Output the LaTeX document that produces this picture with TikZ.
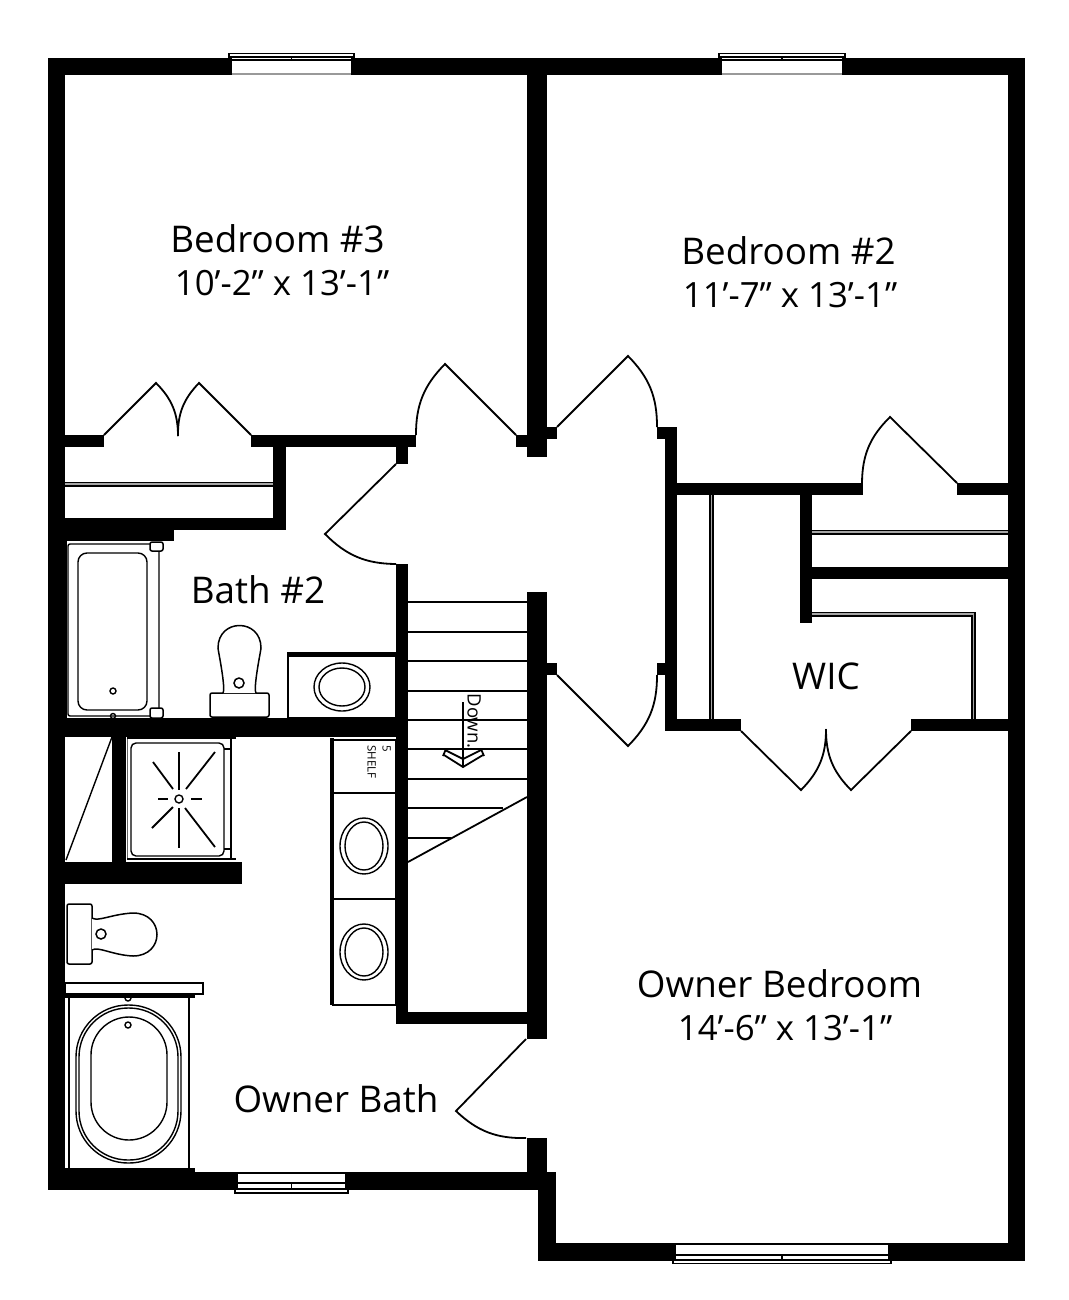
\documentclass[tikz,border=0pt]{standalone}
\usepackage{fontspec}
\setmainfont{Open Sans}
\usetikzlibrary{calc}
\tikzset{
  wall/.style = {fill=black, draw=none},
  fixture/.style = {draw, line width=1.5pt, fill=white},
  thin/.style = {draw, line width=1.4pt},
  swing/.style = {draw, line width=1.8pt, line join=miter},
  rod/.style = {draw=black!35, line width=1.6pt, preaction={draw=black, line width=5pt}},
  roomlabel/.style = {font=\fontsize{36.8}{42}\selectfont, inner sep=0pt},
  sizelabel/.style = {font=\fontsize{34.8}{42}\selectfont, inner sep=0pt},
}
\begin{document}
\begin{tikzpicture}[x=1pt, y=-1pt]
  \useasboundingbox (0,0) rectangle (1068,1300);

  % outer walls
  \fill[wall] (48,58) rectangle (65,1190);
  \fill[wall] (48,58) rectangle (1025,75);
  \fill[wall] (1008,58) rectangle (1025,1261);
  \fill[wall] (48,1172) rectangle (556,1190);
  \fill[wall] (538,1172) rectangle (556,1261);
  \fill[wall] (538,1243) rectangle (1025,1261);

  % centre wall and stairwell
  \fill[wall] (527,58) rectangle (547,457);
  \fill[wall] (516,435) rectangle (527,447);
  \fill[wall] (547,427) rectangle (557,439);
  \fill[wall] (527,592) rectangle (547,1039);
  \fill[wall] (547,663) rectangle (557,675);
  \fill[wall] (527,1138) rectangle (547,1175);
  \fill[wall] (396,564) rectangle (408,1024);
  \fill[wall] (396,1012) rectangle (527,1024);

  % bedroom 3 closet and bath 2
  \fill[wall] (65,435) rectangle (104,447);
  \fill[wall] (251,435) rectangle (416,447);
  \fill[wall] (396,447) rectangle (408,464);
  \fill[wall] (273,447) rectangle (286,530);
  \fill[wall] (65,518) rectangle (286,530);
  \fill[wall] (65,530) rectangle (174,541);
  \fill[wall] (65,530) rectangle (67,718);
  \fill[wall] (65,718) rectangle (408,737);
  \fill[wall] (112,737) rectangle (126,862);
  \fill[wall] (65,862) rectangle (242,884);

  % bedroom 2, closet and WIC
  \fill[wall] (657,427) rectangle (677,439);
  \fill[wall] (665,427) rectangle (677,731);
  \fill[wall] (657,663) rectangle (665,675);
  \fill[wall] (677,483) rectangle (863,495);
  \fill[wall] (957,483) rectangle (1008,495);
  \fill[wall] (800,495) rectangle (812,623);
  \fill[wall] (812,567) rectangle (1008,579);
  \fill[wall] (665,719) rectangle (741,731);
  \fill[wall] (911,719) rectangle (1008,731);

  % closet rods
  \draw[rod] (711.5,495) -- (711.5,719);
  \draw[rod] (812,532) -- (1008,532);
  \draw[rod] (812,614) -- (973.5,614) -- (973.5,719);
  \draw[rod] (65,484) -- (273,484);

  % windows
  \foreach \xa/\xb/\ya/\yb/\yc/\yd/\ec in {232/351/74/60/57/53.5/black!40,722/842/74/60/57/53.5/black!40,238/345/1173/1183/1189/1193/black,676/888/1244/1255/1260/1263.5/black}{
    \fill[white] (\xa,\ya) rectangle (\xb,\yc);
    \draw[draw=\ec, line width=1.4pt] (\xa,\ya) -- (\xb,\ya);
    \draw[thin] (\xa,\yb) -- (\xb,\yb);
    \draw[thin, fill=white] (\xa-3,\yc) rectangle (\xb+3,\yd);
    \draw[thin] ({(\xa+\xb)/2},\yb) -- ({(\xa+\xb)/2},\yc);
  }

  % doors
  \draw[swing] (104,435) -- (156,383) to[bend left=22.5] (178,436);
  \draw[swing] (251,435) -- (199,383) to[bend right=22.5] (178,436);
  \draw[swing] (516,435) -- (445,364) to[bend right=22.5] (416,435);
  \draw[swing] (557,427) -- (628,356) to[bend left=22.5] (657,427);
  \draw[swing] (396,464) -- (325,534) to[bend right=22.5] (396,564);
  \draw[swing] (557,675) -- (628,746) to[bend right=22.5] (657,675);
  \draw[swing] (526,1039) -- (456,1111) to[bend right=22.5] (526,1138);
  \draw[swing] (957,483) -- (890,417) to[bend right=22.5] (862,483);
  \draw[swing] (741,731) -- (801,790) to[bend right=22.5] (826,729);
  \draw[swing] (911,731) -- (851,790) to[bend left=22.5] (826,729);

  % stairs
  \foreach \y in {602,632,661,691,720,749,779}
    \draw[thin] (408,\y) -- (527,\y);
  \draw[thin] (408,808) -- (503,808);
  \draw[thin] (408,838) -- (451,838);
  \draw[swing] (408,862) -- (527,797);
  \draw[swing] (463,702) -- (463,767);
  \draw[swing] (444,755) -- (463,767) -- (483,755);
  \draw[swing] (445,750) -- (463,759) -- (481,750);
  \draw[swing] (443,756) -- (446,749);
  \draw[swing] (484,756) -- (481,749);
  \node[rotate=-90, inner sep=0pt, font=\fontsize{18.5}{24}\selectfont] (downlabel) at (474,721) {Down.};

  % bath 2 fixtures
  \draw[thin, rounded corners=2pt] (68,544) rectangle (159,716);
  \draw[fixture, rounded corners=2pt] (150,542) rectangle (163,551);
  \draw[fixture, rounded corners=2pt] (150,708) rectangle (163,718);
  \draw[thin, fill=white, rounded corners=9pt] (78,553) rectangle (147,710);
  \draw[thin] (113,691) circle (3);
  \draw[thin] (113,716) circle (2.5);
  \draw[fixture, rounded corners=2pt] (210,693) rectangle (269,717);
  \draw[fixture] (223,693) .. controls (226,688) and (218,650) .. (218,648)
    .. controls (218,618) and (261,618) .. (261,648)
    .. controls (261,650) and (253,688) .. (256,693);
  \draw[fixture] (239,683) circle (5);
  \draw[fixture] (288,653) rectangle (396,718);
  \fill[black] (288,653) rectangle (396,657);
  \draw[thin] (342,687) ellipse (28 and 24);
  \draw[thin] (342,687) ellipse (23 and 19);

  % linen shelf and sinks
  \draw[thin] (333,740) rectangle (396,793);
  \draw[thin] (333,793) rectangle (396,899);
  \draw[thin] (333,899) rectangle (396,1005);
  \fill[black] (330,738) rectangle (334,1005);
  \node[rotate=-90, inner sep=0pt, align=left, anchor=north west, font=\fontsize{11.5}{15}\selectfont] (shelflabel) at (391,745) {5\\SHELF};
  \foreach \y in {846,952}{
    \draw[thin] (364,\y) ellipse (24 and 28);
    \draw[thin] (364,\y) ellipse (19 and 24);
  }

  % shower
  \draw[thin] (112,737) -- (66,860);
  \draw[thin] (231,738) -- (231,859);
  \draw[draw=black!60, line width=1pt] (127,738) -- (127,859);
  \draw[thin, rounded corners=5pt] (131,743) rectangle (224,856);
  \draw[thin] (127,738) -- (236,738) (127,859) -- (236,859);
  \draw[thin] (224,749) -- (231,749) (224,849) -- (231,849);
  \draw[thin] (179,799) circle (4);
  \draw[swing] (179,752) -- (179,790) (179,808) -- (179,848) (158,799) -- (168,799) (191,799) -- (202,799);
  \draw[swing] (153,762) -- (173,789) (215,752) -- (186,789) (152,828) -- (173,807) (215,847) -- (185,808);

  % owner bath fixtures
  \draw[fixture, rounded corners=2pt] (67,904) rectangle (92,964);
  \draw[fixture] (92,918) .. controls (98,922) and (112,914) .. (133,913)
    .. controls (165,913) and (165,956) .. (133,956)
    .. controls (112,955) and (98,946) .. (92,950);
  \draw[fixture] (101,934) circle (5);
  \draw[fixture] (65,983) rectangle (203,994);
  \fill[black] (65,994) rectangle (195,998);
  \draw[thin] (128,998) circle (3);
  \draw[thin] (69,998) -- (69,1168) (189,998) -- (189,1168);
  \fill[black] (65,1168) rectangle (195,1172);
  \draw[thin, rounded corners=52pt] (76,1005) rectangle (181,1163);
  \draw[thin, rounded corners=49pt] (79,1008) rectangle (178,1160);
  \draw[thin, rounded corners=38pt] (91,1017) rectangle (167,1140);
  \draw[thin] (128,1025) circle (3);

  % room labels
  \node[roomlabel] (bedthree) at (277.5,239) {Bedroom \#3};
  \node[sizelabel] (bedthreesize) at (282,283) {10’-2” x 13’-1”};
  \node[roomlabel] (bedtwo) at (788.5,251) {Bedroom \#2};
  \node[sizelabel] (bedtwosize) at (790,295) {11’-7” x 13’-1”};
  \node[roomlabel] (bathtwo) at (258,590) {Bath \#2};
  \node[roomlabel] (wic) at (826,676) {WIC};
  \node[roomlabel] (ownerbed) at (779.5,984) {Owner Bedroom};
  \node[sizelabel] (ownerbedsize) at (785,1028) {14’-6” x 13’-1”};
  \node[roomlabel] (ownerbath) at (336,1099) {Owner Bath};
\end{tikzpicture}
\end{document}
